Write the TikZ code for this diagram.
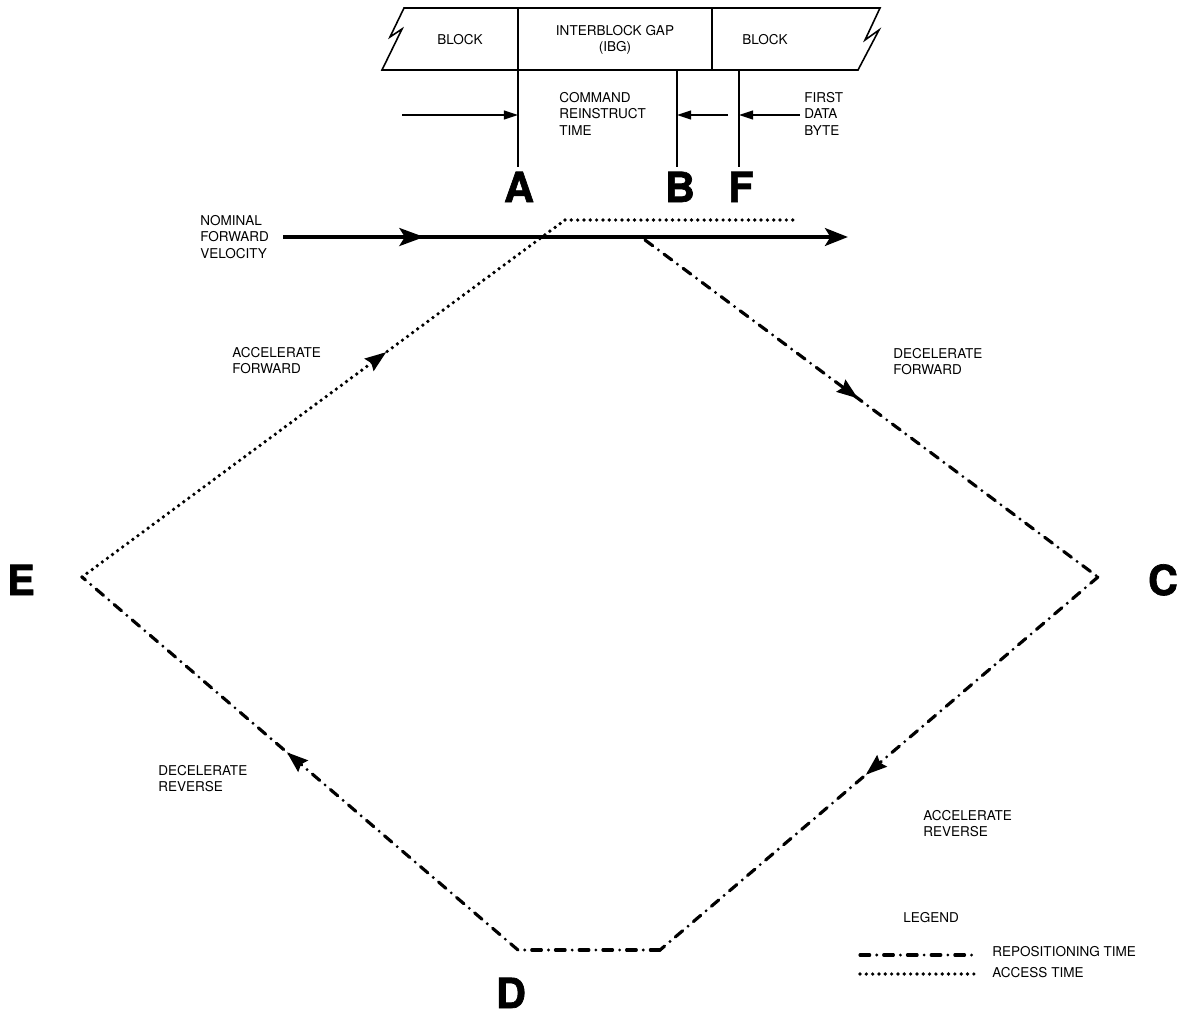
\documentclass[tikz,border=0pt]{standalone}
\usepackage{fontspec}
\setmainfont{TeX Gyre Heros}
\newfontfamily\heavyfont{TeX Gyre Heros}[BoldFeatures={FakeBold=1.6}]
\usetikzlibrary{arrows.meta,decorations.markings}

\begin{document}
\begin{tikzpicture}[
  x=0.02cm, y=-0.02cm,
  lbl/.style={font=\fontsize{7.7}{9.4}\selectfont, align=left, inner sep=0pt, anchor=north west},
  big/.style={font=\heavyfont\fontsize{23.6}{24}\selectfont\bfseries, inner sep=0pt, anchor=base},
  tape/.style={line width=0.9pt, line join=miter},
  tick/.style={line width=0.9pt},
  ptr/.style={line width=0.9pt, -{Triangle[length=8pt,width=5pt]}},
  nominal/.style={line width=2.8pt, -{Stealth[length=13pt,width=10pt,inset=3pt]}},
  access/.style={line width=2.1pt, line cap=round, dash pattern=on 0pt off 3.6pt},
  repos/.style={line width=1.8pt, line cap=round, dash pattern=on 5.5pt off 4pt on 0pt off 4pt},
  midarrow/.style={postaction={decorate}, decoration={markings,
    mark=at position #1 with {\arrow{Stealth[length=12pt,width=8.5pt,inset=1.5pt]}}}},
  midthick/.style={postaction={decorate}, decoration={markings,
    mark=at position #1 with {\arrow{Stealth[length=14pt,width=10pt,inset=3pt]}}}}
]
\useasboundingbox (0,0) rectangle (1180,1018);

% tape
\draw[tape] (404,8) -- (880,8) -- (865,40) -- (879,30) -- (858,70)
  -- (382,70) -- (402,29) -- (390,37) -- cycle;
\draw[tick] (518,8) -- (518,70);
\draw[tick] (712,8) -- (712,70);
\node (blk1) at (460,40) [lbl, anchor=center] {BLOCK};
\node (ibg) at (615,40) [lbl, anchor=center, align=center] {INTERBLOCK GAP\\(IBG)};
\node (blk2) at (765,40) [lbl, anchor=center] {BLOCK};

\node[big] (A) at (519,202) {A};
\node[big] (B) at (680,202) {B};
\node[big] (F) at (741,202) {F};
\coordinate (tA) at (518,70);
\coordinate (tB) at (677,70);
\coordinate (tF) at (739,70);
\draw[tick] (tA) -- ([yshift=2.8pt]tA |- A.north);
\draw[tick] (tB) -- ([yshift=2.8pt]tB |- B.north);
\draw[tick] (tF) -- ([yshift=2.8pt]tF |- F.north);

\coordinate (inA) at (402,115);
\coordinate (inB) at (728,115);
\coordinate (inF) at (800,115);
\draw[ptr] (inA) -- (inA -| tA);
\draw[ptr] (inB) -- (inB -| tB);
\draw[ptr] (inF) -- (inF -| tF);
\node[lbl] (cmd) at (559,92) {COMMAND\\REINSTRUCT\\TIME};
\node[lbl] (first) at (804,92) {FIRST\\DATA\\BYTE};

% motion profile
\node[big] (E) at (21,595) {E};
\node[big] (C) at (1163,595) {C};
\node[big] (D) at (511,1008) {D};
\coordinate (pE) at (82,577);
\coordinate (pC) at (1098,577);
\coordinate (pD1) at (518,950);
\coordinate (pD2) at (660,950);
\coordinate (fwd) at (645,240);
\coordinate (top1) at (565,220);
\coordinate (top2) at (795,220);
\coordinate (nomS) at (283,237);
\coordinate (nomE) at (848,237);

\draw[access, midarrow=0.63] (pE) -- (top1);
\draw[access] (top1) -- (top2);
\draw[repos, midarrow=0.47] (fwd) -- (pC);
\draw[repos, midarrow=0.53] (pC) -- (pD2);
\draw[repos] (pD2) -- (pD1);
\draw[repos, midarrow=0.53] (pD1) -- (pE);
\draw[nominal, midthick=0.25] (nomS) -- (nomE);

\node[lbl] (nomlbl) at (200,215) {NOMINAL\\FORWARD\\VELOCITY};
\node[lbl] (accf) at (232,347) {ACCELERATE\\FORWARD};
\node[lbl] (decf) at (893,348) {DECELERATE\\FORWARD};
\node[lbl] (decr) at (158,765) {DECELERATE\\REVERSE};
\node[lbl] (accr) at (923,810) {ACCELERATE\\REVERSE};

% legend
\node[lbl] (legend) at (903,912) {LEGEND};
\coordinate (r1) at (860,955);
\coordinate (r2) at (978,955);
\coordinate (a1) at (860,974);
\coordinate (a2) at (978,974);
\draw[repos] (r1) -- (r2);
\draw[access] (a1) -- (a2);
\node[lbl, anchor=west] (rtime) at (992,952) {REPOSITIONING TIME};
\node[lbl, anchor=west] (atime) at (992,973) {ACCESS TIME};
\end{tikzpicture}
\end{document}
